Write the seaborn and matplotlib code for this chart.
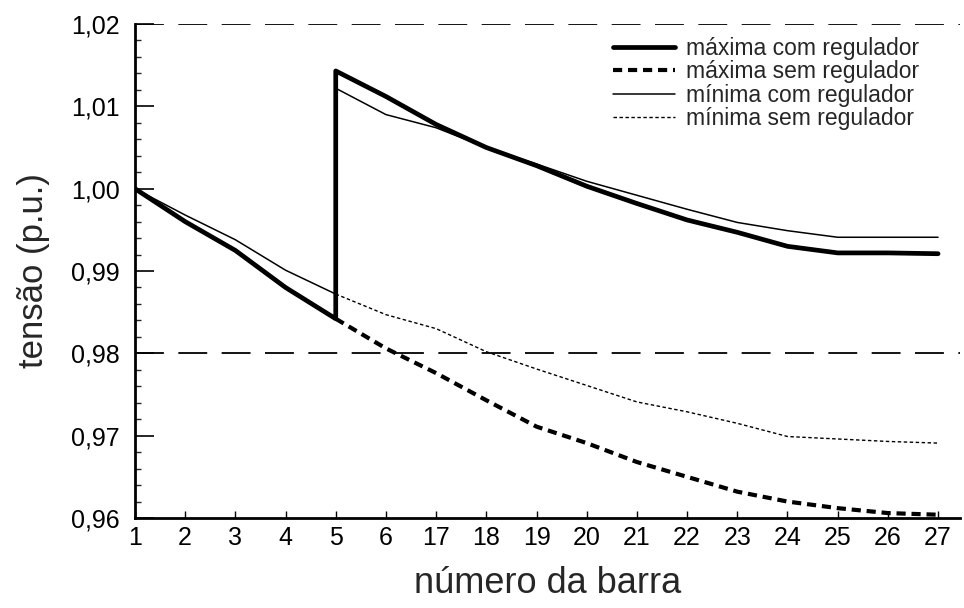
import matplotlib
matplotlib.use("Agg")
import matplotlib.pyplot as plt
import seaborn as sns
import numpy as np
import pandas as pd
from matplotlib.ticker import FuncFormatter, MultipleLocator

barras = ["1", "2", "3", "4", "5", "6", "17", "18", "19", "20", "21", "22", "23", "24", "25", "26", "27"]

# com regulador: bar 5 appears twice (before / after regulator)
barras_com = ["1", "2", "3", "4", "5", "5", "6", "17", "18", "19", "20", "21", "22", "23", "24", "25", "26", "27"]
max_com = [1.000, 0.996, 0.9925, 0.988, 0.9842, 1.0143, 1.0112, 1.0078, 1.0050, 1.0028, 1.0003, 0.9982,
           0.9962, 0.9947, 0.9930, 0.9922, 0.9922, 0.9921]
min_com = [1.000, 0.9968, 0.9938, 0.9901, 0.9872, 1.0122, 1.0090, 1.0074, 1.0050, 1.0030, 1.0009, 0.9992,
           0.9975, 0.9959, 0.9949, 0.9941, 0.9941, 0.9941]

barras_sem = ["5", "6", "17", "18", "19", "20", "21", "22", "23", "24", "25", "26", "27"]
max_sem = [0.9842, 0.9806, 0.9776, 0.9743, 0.9711, 0.9691, 0.9668, 0.9650, 0.9632, 0.9620, 0.9612, 0.9606, 0.9604]
min_sem = [0.9872, 0.9847, 0.9830, 0.9802, 0.9781, 0.9761, 0.9741, 0.9729, 0.9715, 0.9699, 0.9696, 0.9693, 0.9691]

labels = ["máxima com regulador", "máxima sem regulador", "mínima com regulador", "mínima sem regulador"]
limites = [1.02, 0.98]

sns.set_theme(style="ticks")
plt.rcParams['font.family'] = ['Liberation Sans', 'DejaVu Sans']

pos = {b: i for i, b in enumerate(barras)}

fig = plt.figure(figsize=(9.64, 6.08), dpi=100)
ax = fig.add_axes([0.140, 0.148, 0.856, 0.8125])

for lim in limites:
    ax.axhline(lim, color="black", lw=1.3, dashes=(16, 8), zorder=1)

df_mc = pd.DataFrame({"x": [pos[b] for b in barras_com], "v": max_com})
df_ms = pd.DataFrame({"x": [pos[b] for b in barras_sem], "v": max_sem})
df_nc = pd.DataFrame({"x": [pos[b] for b in barras_com], "v": min_com})
df_ns = pd.DataFrame({"x": [pos[b] for b in barras_sem], "v": min_sem})

sns.lineplot(data=df_mc, x="x", y="v", estimator=None, sort=False, ax=ax, color="black", lw=3.4, label=labels[0])
sns.lineplot(data=df_ms, x="x", y="v", estimator=None, sort=False, ax=ax, color="black", lw=3.0, label=labels[1])
sns.lineplot(data=df_nc, x="x", y="v", estimator=None, sort=False, ax=ax, color="black", lw=1.1, label=labels[2])
sns.lineplot(data=df_ns, x="x", y="v", estimator=None, sort=False, ax=ax, color="black", lw=1.0, label=labels[3])

lines = ax.get_lines()
data_lines = lines[2:]
data_lines[1].set_dashes((2.2, 1.4))
data_lines[3].set_dashes((2.5, 1.8))

ax.set_xlim(0, 16.44)
ax.set_ylim(0.96, 1.02)
ax.set_xticks(range(len(barras)))
ax.set_xticklabels(barras)
ax.yaxis.set_major_locator(MultipleLocator(0.01))
ax.yaxis.set_minor_locator(MultipleLocator(0.002))
ax.yaxis.set_major_formatter(FuncFormatter(lambda v, p: f"{v:.2f}".replace(".", ",")))

ax.tick_params(axis="both", direction="in", labelsize=18, colors="black")
ax.tick_params(axis="y", which="major", length=14, width=1.2, pad=11)
ax.tick_params(axis="y", which="minor", length=4, width=1.0, direction="in")
ax.tick_params(axis="x", which="major", length=5, width=1.0, pad=6)

for s in ["top", "right"]:
    ax.spines[s].set_visible(False)
for s in ["left", "bottom"]:
    ax.spines[s].set_linewidth(2.0)
    ax.spines[s].set_color("black")

ax.set_xlabel("número da barra", fontsize=26, labelpad=11)
ax.set_ylabel("tensão (p.u.)", fontsize=25, labelpad=15)

leg = ax.legend(loc="upper right", frameon=False, fontsize=16.5, handlelength=2.7,
                labelspacing=0.02, bbox_to_anchor=(0.962, 0.993), handletextpad=0.5,
                borderaxespad=0.0)

fig.savefig("out.png", dpi=100)
